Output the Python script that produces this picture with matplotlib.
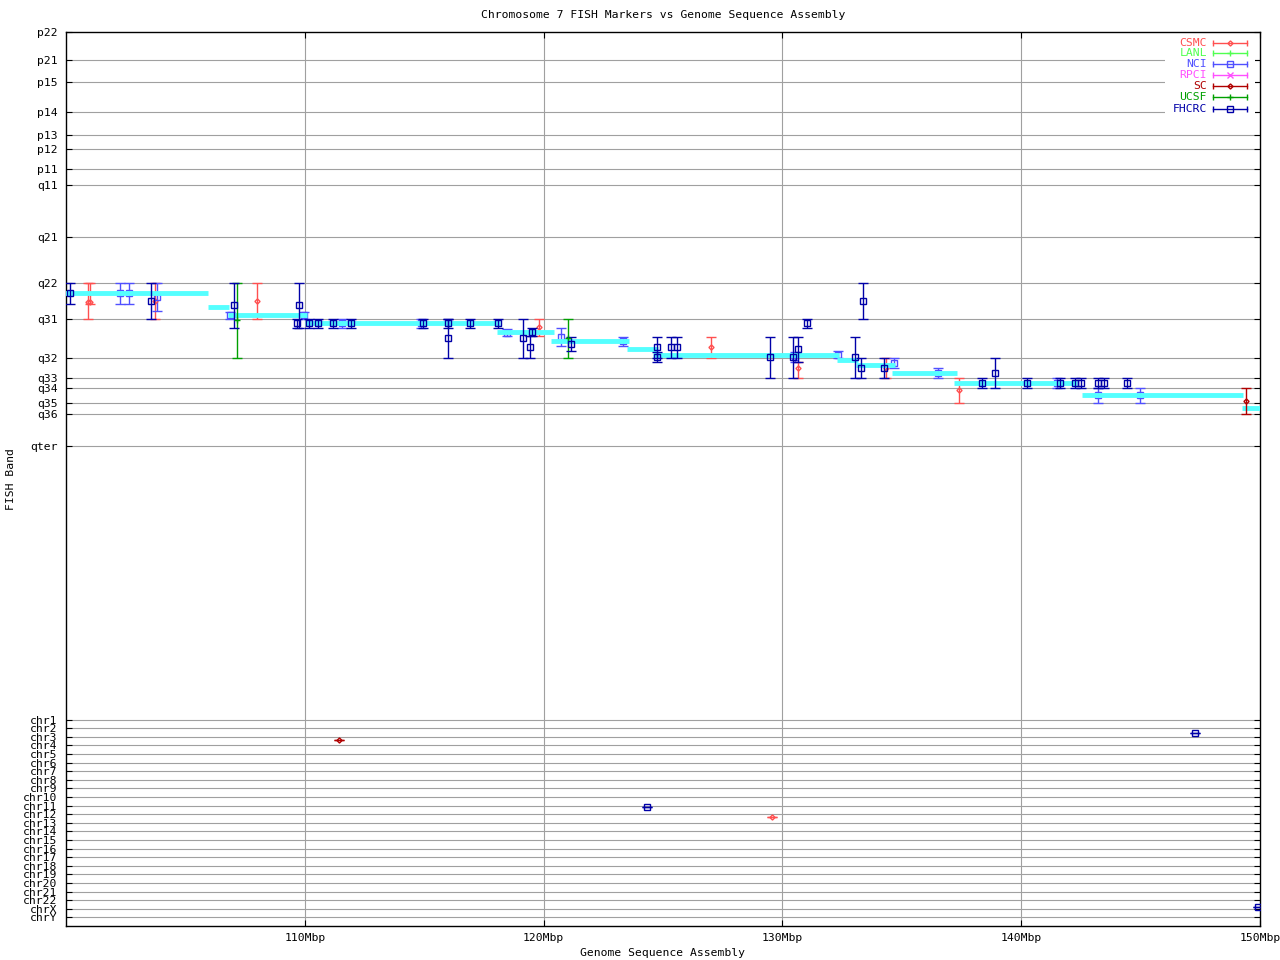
import matplotlib
matplotlib.use('Agg')
import matplotlib.pyplot as plt
from matplotlib.patches import Rectangle

plt.rcParams['font.family'] = ['DejaVu Sans Mono', 'DejaVu Sans']
plt.rcParams['font.size'] = 8.2

# y axis: FISH band positions (top part) and chromosome rows (bottom part)
band_labels = ['p22', 'p21', 'p15', 'p14', 'p13', 'p12', 'p11', 'q11', 'q21',
               'q22', 'q31', 'q32', 'q33', 'q34', 'q35', 'q36', 'qter']
band_pos = [32, 59.5, 82, 112.3, 135.3, 149.3, 169.3, 185, 237,
            283.3, 319.3, 358.3, 378, 388, 403.3, 414, 446.3]
chr_labels = ['chr%d' % i for i in range(1, 23)] + ['chrX', 'chrY']
chr_pos = [720.3, 728.3, 737, 745.3, 754, 763, 771.3, 780, 788.3, 797.3, 806, 814.3,
           823.3, 831.3, 840.3, 849.3, 857.3, 866.3, 874.3, 883.3, 892.3, 900.3,
           909.3, 917.3]

# sequence assembly band steps (Mbp start, Mbp end, band position)
seg_start = [99.9, 105.94, 106.78, 110.0, 118.03, 120.33, 123.51, 124.6, 132.3,
             133.1, 134.6, 137.2, 142.55, 149.25]
seg_end = [105.94, 106.82, 110.08, 118.16, 120.42, 123.56, 124.77, 132.38, 133.18,
           134.73, 137.32, 142.34, 149.29, 150.1]
seg_band = [293, 307, 315, 322.7, 332, 341, 349, 354.7, 360, 365, 373, 382.7, 395, 407.7]

# FISH markers per lab: position (Mbp), band, band low, band high
csmc_x = [100.94, 101.02, 103.72, 107.98, 119.8, 126.99, 130.64, 134.34, 137.38, 129.55]
csmc_y = [301.5, 301.5, 301.3, 301.3, 327.3, 347.3, 368.3, 368.3, 390, 817.3]
csmc_lo = [283.3, 283.3, 283.3, 283.3, 319.3, 336.7, 361.7, 358.3, 378.3, 817.3]
csmc_hi = [319.3, 304.3, 319.3, 319.3, 336, 358.3, 378.3, 378.3, 403.3, 817.3]

lanl_x, lanl_y, lanl_lo, lanl_hi = [], [], [], []
rpci_x, rpci_y, rpci_lo, rpci_hi = [], [], [], []

nci_x = [102.27, 102.65, 103.79, 106.86, 109.97, 111.56, 114.88, 118.46, 120.72,
         123.32, 130.54, 132.31, 134.66, 136.5, 141.49, 143.23, 144.99]
nci_y = [293, 293, 296.7, 315, 315, 323.3, 323.3, 332.5, 336.7,
         341, 357, 354.7, 363, 373, 383.3, 395, 395]
nci_lo = [283.3, 283.3, 283.3, 311.7, 311.7, 319.3, 319.3, 329, 328.3,
          336.7, 351.7, 351, 358.3, 368.3, 378.3, 388.3, 388.3]
nci_hi = [304.3, 304.3, 311, 319, 319, 328.3, 328.3, 336, 346,
          346, 362, 358.3, 368.3, 378.3, 388.3, 402.7, 402.7]

sc_x = [149.43, 111.42]
sc_y = [401.3, 740.3]
sc_lo = [388.3, 740.3]
sc_hi = [414.3, 740.3]

ucsf_x = [107.14, 121.02]
ucsf_y = [320, 338.3]
ucsf_lo = [283.3, 319.3]
ucsf_hi = [358.3, 358.3]

fhcrc_x = [100.18, 103.57, 107.04, 109.76, 109.68, 110.18, 110.56, 111.18, 111.94,
           114.95, 115.98, 115.98, 116.92, 118.09, 119.13, 119.43, 119.51, 121.14,
           124.76, 124.76, 125.33, 125.59, 129.47, 130.43, 130.64, 131.02, 133.36,
           133.03, 133.28, 134.24, 138.34, 138.89, 140.26, 141.64, 142.27, 142.52,
           143.23, 143.48, 144.41, 124.32, 147.29, 149.92]
fhcrc_y = [293.3, 301.3, 305, 305, 323.3, 323.3, 323.3, 323.3, 323.3,
           323.3, 323.3, 338.3, 323.3, 323.3, 338.3, 347.3, 332.3, 344,
           347.3, 357.3, 347.3, 347.3, 357.3, 357.3, 349.3, 323.3, 301.3,
           357.3, 368.3, 368.3, 383.3, 373.3, 383.3, 383.3, 383.3, 383.3,
           383.3, 383.3, 383.3, 807.3, 733.3, 906.7]
fhcrc_lo = [283.3, 283.3, 283.3, 283.3, 319.3, 319.3, 319.3, 319.3, 319.3,
            319.3, 319.3, 319.3, 319.3, 319.3, 319.3, 336, 328.3, 336.7,
            336.7, 351.7, 336.7, 336.7, 336.7, 336.7, 336.7, 319.3, 283.3,
            336.7, 358.3, 358.3, 378.3, 358.3, 378.3, 378.3, 378.3, 378.3,
            378.3, 378.3, 378.3, 807.3, 733.3, 906.7]
fhcrc_hi = [304.3, 319.3, 328.3, 328.3, 328.3, 328.3, 328.3, 328.3, 328.3,
            328.3, 328.3, 358.3, 328.3, 328.3, 358.3, 358.3, 336, 351,
            358.3, 362, 358.3, 358.3, 378.3, 378.3, 362, 328.3, 319.3,
            378.3, 378.3, 378.3, 388.3, 388.3, 388.3, 388.3, 388.3, 388.3,
            388.3, 388.3, 388.3, 807.3, 733.3, 906.7]

labs = ['CSMC', 'LANL', 'NCI', 'RPCI', 'SC', 'UCSF', 'FHCRC']
lab_data = {
    'CSMC': (csmc_x, csmc_y, csmc_lo, csmc_hi),
    'LANL': (lanl_x, lanl_y, lanl_lo, lanl_hi),
    'NCI': (nci_x, nci_y, nci_lo, nci_hi),
    'RPCI': (rpci_x, rpci_y, rpci_lo, rpci_hi),
    'SC': (sc_x, sc_y, sc_lo, sc_hi),
    'UCSF': (ucsf_x, ucsf_y, ucsf_lo, ucsf_hi),
    'FHCRC': (fhcrc_x, fhcrc_y, fhcrc_lo, fhcrc_hi),
}
lab_color = {'CSMC': '#ff5050', 'LANL': '#50ff50', 'NCI': '#5050ff', 'RPCI': '#ff50ff',
             'SC': '#b00000', 'UCSF': '#00a000', 'FHCRC': '#0000a8'}
lab_marker = {'CSMC': 'D', 'LANL': '+', 'NCI': 's', 'RPCI': 'x',
              'SC': 'D', 'UCSF': '+', 'FHCRC': 's'}
lab_ms = {'CSMC': 2.6, 'LANL': 5, 'NCI': 4, 'RPCI': 4, 'SC': 2.6, 'UCSF': 5, 'FHCRC': 4}
lab_z = {'CSMC': 2, 'LANL': 2, 'NCI': 2, 'RPCI': 2, 'SC': 4, 'UCSF': 4, 'FHCRC': 4}

fig = plt.figure(figsize=(12.8, 9.6), dpi=100)
ax = fig.add_axes([66 / 1280, 1 - 926 / 960, 1194 / 1280, 894 / 960])

grid_c = '#a0a0a0'
for yv in band_pos[1:] + chr_pos:
    ax.axhline(yv, color=grid_c, lw=0.8, zorder=1)
for xv in [110, 120, 130, 140]:
    ax.axvline(xv, color=grid_c, lw=0.8, zorder=1)

# sequence assembly steps
for x0, x1, b in zip(seg_start, seg_end, seg_band):
    ax.plot([x0, x1], [b, b], color='#55ffff', lw=3.5, solid_capstyle='butt', zorder=3)

for lab in labs:
    x, y, lo, hi = lab_data[lab]
    if not x:
        continue
    yerr = [[yy - l for yy, l in zip(y, lo)], [h - yy for yy, h in zip(y, hi)]]
    ax.errorbar(x, y, yerr=yerr, fmt=lab_marker[lab], color=lab_color[lab],
                mfc='none', mec=lab_color[lab], ms=lab_ms[lab], mew=1.0,
                elinewidth=1.0, capsize=3.8, capthick=1.0, zorder=lab_z[lab])

ax.set_xlim(100, 150)
ax.set_ylim(926, 32)
ax.set_xticks([110, 120, 130, 140, 150])
ax.set_xticklabels(['%dMbp' % v for v in [110, 120, 130, 140, 150]])
ax.set_yticks(band_pos + chr_pos)
ax.set_yticklabels(band_labels + chr_labels)
ax.tick_params(axis='both', direction='in', length=4, width=0.8,
               top=True, right=True, colors='black')
ax.tick_params(axis='y', pad=6)
ax.tick_params(axis='x', pad=5)
for sp in ax.spines.values():
    sp.set_linewidth(1.0)

# legend, drawn gnuplot style
ax.add_patch(Rectangle((0.9204, 0.907), 0.075, 0.0895, transform=ax.transAxes,
                       facecolor='white', edgecolor='none', zorder=5))
row_px = [42.7, 53.3, 64, 75, 86, 97, 108.7]
for lab, py in zip(labs, row_px):
    yf = 1 - (py - 32) / 894
    c = lab_color[lab]
    ax.text(0.9556, yf, lab, transform=ax.transAxes, ha='right', va='center',
            color=c, zorder=6)
    ax.plot([0.9606, 0.9891], [yf, yf], transform=ax.transAxes, color=c, lw=1.0,
            zorder=6, clip_on=False)
    ax.plot([0.9606, 0.9891], [yf, yf], transform=ax.transAxes, ls='none',
            marker='|', ms=5, mew=1.0, color=c, zorder=6, clip_on=False)
    ax.plot([0.9748], [yf], transform=ax.transAxes, ls='none', marker=lab_marker[lab],
            ms=lab_ms[lab], mfc='none', mec=c, mew=1.0, zorder=6, clip_on=False)

fig.text(663 / 1280, 1 - 15 / 960, 'Chromosome 7 FISH Markers vs Genome Sequence Assembly',
         ha='center', va='center')
fig.text(663 / 1280, 1 - 953 / 960, 'Genome Sequence Assembly', ha='center', va='center')
fig.text(11 / 1280, 1 - 479 / 960, 'FISH Band', ha='center', va='center', rotation=90)

fig.savefig('out.png', dpi=100)
